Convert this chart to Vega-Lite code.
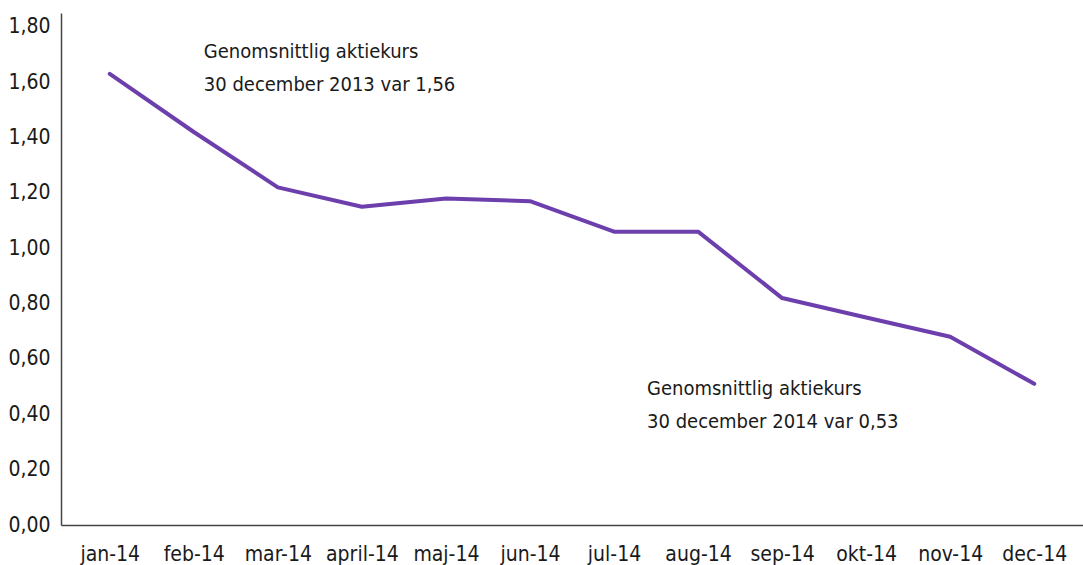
{
  "$schema": "https://vega.github.io/schema/vega-lite/v6.json",
  "width": 1022,
  "height": 512,
  "autosize": "none",
  "padding": {"left": 61, "top": 13, "right": 0, "bottom": 40},
  "background": "white",
  "config": {
    "view": {"stroke": null},
    "font": "Liberation Sans Narrow, DejaVu Sans Condensed, sans-serif"
  },
  "datasets": {
    "kurs": [
      {"month": "jan-14", "value": 1.63},
      {"month": "feb-14", "value": 1.42},
      {"month": "mar-14", "value": 1.22},
      {"month": "april-14", "value": 1.15},
      {"month": "maj-14", "value": 1.18},
      {"month": "jun-14", "value": 1.17},
      {"month": "jul-14", "value": 1.06},
      {"month": "aug-14", "value": 1.06},
      {"month": "sep-14", "value": 0.82},
      {"month": "okt-14", "value": 0.75},
      {"month": "nov-14", "value": 0.68},
      {"month": "dec-14", "value": 0.51}
    ],
    "notes": [
      {"month": "feb-14", "value": 1.745, "label": ["Genomsnittlig aktiekurs", "30 december 2013 var 1,56"], "shift": 10},
      {"month": "jul-14", "value": 0.528, "label": ["Genomsnittlig aktiekurs", "30 december 2014 var 0,53"], "shift": 33}
    ]
  },
  "layer": [
    {
      "data": {"name": "kurs"},
      "mark": {"type": "line", "color": "#6d3fad", "strokeWidth": 4, "strokeJoin": "round", "strokeCap": "round"},
      "encoding": {
        "x": {
          "field": "month", "type": "ordinal", "sort": null,
          "scale": {"type": "point", "padding": 0.58},
          "axis": {
            "title": null, "labelAngle": 0, "ticks": false, "grid": false,
            "domainColor": "#444444", "domainWidth": 1.5,
            "labelFontSize": 21, "labelColor": "#1a1a1a", "labelPadding": 18
          }
        },
        "y": {
          "field": "value", "type": "quantitative",
          "scale": {"domain": [0, 1.85], "nice": false},
          "axis": {
            "title": null, "values": [0, 0.2, 0.4, 0.6, 0.8, 1.0, 1.2, 1.4, 1.6, 1.8],
            "labelExpr": "replace(format(datum.value, '.2f'), '.', ',')",
            "ticks": false, "grid": false,
            "domainColor": "#444444", "domainWidth": 1.5,
            "labelFontSize": 21, "labelColor": "#1a1a1a", "labelPadding": 11
          }
        }
      }
    },
    {
      "data": {"name": "notes"},
      "mark": {"type": "text", "align": "left", "baseline": "top", "fontSize": 20, "lineHeight": 33, "color": "#1a1a1a"},
      "encoding": {
        "x": {"field": "month", "type": "ordinal", "sort": null},
        "y": {"field": "value", "type": "quantitative"},
        "xOffset": {"field": "shift", "type": "quantitative", "scale": null},
        "text": {"field": "label"}
      }
    }
  ]
}
